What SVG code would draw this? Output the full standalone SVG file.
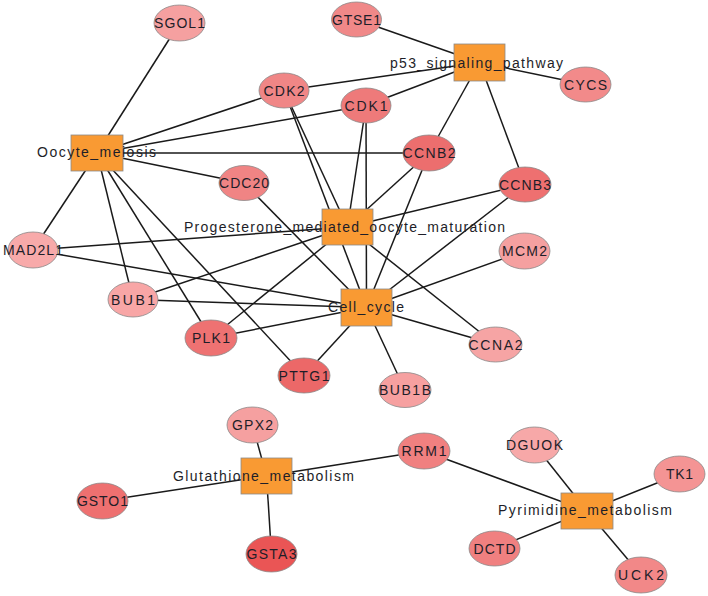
<svg xmlns="http://www.w3.org/2000/svg" width="708" height="596" viewBox="0 0 708 596">
<style>
.e{stroke:#1a1a1a;stroke-width:1.5;fill:none}
.n ellipse{stroke:#8a8a8a;stroke-width:0.8}
.p rect{fill:#F99A33;stroke:#8a8a8a;stroke-width:0.8}
text{font-family:"Liberation Sans",Arial,sans-serif;font-size:14px;fill:#1e1e28;text-anchor:middle}
</style>
<rect width="708" height="596" fill="#fff"/>
<g id="connectors">
<line class="e" x1="97" y1="153" x2="179.5" y2="23"/>
<line class="e" x1="97" y1="153" x2="284" y2="90.5"/>
<line class="e" x1="97" y1="153" x2="366" y2="105.5"/>
<line class="e" x1="97" y1="153" x2="429" y2="153"/>
<line class="e" x1="97" y1="153" x2="244" y2="183"/>
<line class="e" x1="97" y1="153" x2="33" y2="250"/>
<line class="e" x1="97" y1="153" x2="133" y2="299.5"/>
<line class="e" x1="97" y1="153" x2="211" y2="338"/>
<line class="e" x1="97" y1="153" x2="304" y2="375.5"/>
<line class="e" x1="479.5" y1="62.5" x2="356.5" y2="19.5"/>
<line class="e" x1="479.5" y1="62.5" x2="585.5" y2="84.5"/>
<line class="e" x1="479.5" y1="62.5" x2="284" y2="90.5"/>
<line class="e" x1="479.5" y1="62.5" x2="366" y2="105.5"/>
<line class="e" x1="479.5" y1="62.5" x2="429" y2="153"/>
<line class="e" x1="479.5" y1="62.5" x2="525" y2="184.5"/>
<line class="e" x1="347.5" y1="227" x2="284" y2="90.5"/>
<line class="e" x1="347.5" y1="227" x2="366" y2="105.5"/>
<line class="e" x1="347.5" y1="227" x2="429" y2="153"/>
<line class="e" x1="347.5" y1="227" x2="525" y2="184.5"/>
<line class="e" x1="347.5" y1="227" x2="33" y2="250"/>
<line class="e" x1="347.5" y1="227" x2="133" y2="299.5"/>
<line class="e" x1="347.5" y1="227" x2="211" y2="338"/>
<line class="e" x1="347.5" y1="227" x2="495.5" y2="344.5"/>
<line class="e" x1="366.5" y1="307.5" x2="284" y2="90.5"/>
<line class="e" x1="366.5" y1="307.5" x2="366" y2="105.5"/>
<line class="e" x1="366.5" y1="307.5" x2="429" y2="153"/>
<line class="e" x1="366.5" y1="307.5" x2="525" y2="184.5"/>
<line class="e" x1="366.5" y1="307.5" x2="244" y2="183"/>
<line class="e" x1="366.5" y1="307.5" x2="524.5" y2="251"/>
<line class="e" x1="366.5" y1="307.5" x2="33" y2="250"/>
<line class="e" x1="366.5" y1="307.5" x2="133" y2="299.5"/>
<line class="e" x1="366.5" y1="307.5" x2="211" y2="338"/>
<line class="e" x1="366.5" y1="307.5" x2="304" y2="375.5"/>
<line class="e" x1="366.5" y1="307.5" x2="405" y2="390"/>
<line class="e" x1="366.5" y1="307.5" x2="495.5" y2="344.5"/>
<line class="e" x1="266.5" y1="476" x2="252.5" y2="425"/>
<line class="e" x1="266.5" y1="476" x2="102.5" y2="501"/>
<line class="e" x1="266.5" y1="476" x2="271.5" y2="554"/>
<line class="e" x1="266.5" y1="476" x2="424" y2="451"/>
<line class="e" x1="587" y1="511" x2="424" y2="451"/>
<line class="e" x1="587" y1="511" x2="534.5" y2="445"/>
<line class="e" x1="587" y1="511" x2="679.5" y2="474"/>
<line class="e" x1="587" y1="511" x2="494.5" y2="548.5"/>
<line class="e" x1="587" y1="511" x2="641" y2="575"/>
</g>
<g id="SGOL1" class="n"><ellipse cx="179.5" cy="23" rx="25.5" ry="18" fill="#F5A0A0"/><text x="179.5" y="28" textLength="51" lengthAdjust="spacing">SGOL1</text></g>
<g id="GTSE1" class="n"><ellipse cx="356.5" cy="19.5" rx="25" ry="17.5" fill="#F08888"/><text x="356.5" y="24.5" textLength="49" lengthAdjust="spacing">GTSE1</text></g>
<g id="CYCS" class="n"><ellipse cx="585.5" cy="84.5" rx="25.5" ry="17.5" fill="#F28A8A"/><text x="585.5" y="89.5" textLength="43" lengthAdjust="spacing">CYCS</text></g>
<g id="CDK2" class="n"><ellipse cx="284" cy="90.5" rx="25" ry="17.5" fill="#F08686"/><text x="284" y="95.5" textLength="41" lengthAdjust="spacing">CDK2</text></g>
<g id="CDK1" class="n"><ellipse cx="366" cy="105.5" rx="25" ry="17.5" fill="#EE7A7A"/><text x="366" y="110.5" textLength="43" lengthAdjust="spacing">CDK1</text></g>
<g id="CDC20" class="n"><ellipse cx="244" cy="183" rx="25" ry="17.5" fill="#F08484"/><text x="244" y="188" textLength="50" lengthAdjust="spacing">CDC20</text></g>
<g id="CCNB2" class="n"><ellipse cx="429" cy="153" rx="26" ry="18" fill="#EC6E6E"/><text x="429" y="158" textLength="53" lengthAdjust="spacing">CCNB2</text></g>
<g id="CCNB3" class="n"><ellipse cx="525" cy="184.5" rx="26" ry="17.5" fill="#EE7070"/><text x="525" y="189.5" textLength="52" lengthAdjust="spacing">CCNB3</text></g>
<g id="MAD2L1" class="n"><ellipse cx="33" cy="250" rx="25" ry="18" fill="#F8AAAA"/><text x="33" y="255" textLength="60" lengthAdjust="spacing">MAD2L1</text></g>
<g id="MCM2" class="n"><ellipse cx="524.5" cy="251" rx="25.5" ry="18" fill="#F5A0A0"/><text x="524.5" y="256" textLength="45" lengthAdjust="spacing">MCM2</text></g>
<g id="BUB1" class="n"><ellipse cx="133" cy="299.5" rx="25" ry="17.5" fill="#F8A6A6"/><text x="133" y="304.5" textLength="44" lengthAdjust="spacing">BUB1</text></g>
<g id="PLK1" class="n"><ellipse cx="211" cy="338" rx="26" ry="18" fill="#EE7272"/><text x="211" y="343" textLength="38" lengthAdjust="spacing">PLK1</text></g>
<g id="CCNA2" class="n"><ellipse cx="495.5" cy="344.5" rx="26.5" ry="17.5" fill="#F6A4A4"/><text x="495.5" y="349.5" textLength="54" lengthAdjust="spacing">CCNA2</text></g>
<g id="PTTG1" class="n"><ellipse cx="304" cy="375.5" rx="26" ry="17.5" fill="#EC6868"/><text x="304" y="380.5" textLength="51" lengthAdjust="spacing">PTTG1</text></g>
<g id="BUB1B" class="n"><ellipse cx="405" cy="390" rx="26" ry="17.5" fill="#F6A0A0"/><text x="405" y="395" textLength="52" lengthAdjust="spacing">BUB1B</text></g>
<g id="GPX2" class="n"><ellipse cx="252.5" cy="425" rx="25.5" ry="18" fill="#F5A0A0"/><text x="252.5" y="430" textLength="41" lengthAdjust="spacing">GPX2</text></g>
<g id="GSTO1" class="n"><ellipse cx="102.5" cy="501" rx="25.5" ry="18" fill="#EE7070"/><text x="102.5" y="506" textLength="51" lengthAdjust="spacing">GSTO1</text></g>
<g id="GSTA3" class="n"><ellipse cx="271.5" cy="554" rx="25.5" ry="18" fill="#EA5555"/><text x="271.5" y="559" textLength="50" lengthAdjust="spacing">GSTA3</text></g>
<g id="RRM1" class="n"><ellipse cx="424" cy="451" rx="26" ry="18" fill="#F08080"/><text x="424" y="456" textLength="45" lengthAdjust="spacing">RRM1</text></g>
<g id="DGUOK" class="n"><ellipse cx="534.5" cy="445" rx="25.5" ry="18" fill="#F7A8A8"/><text x="534.5" y="450" textLength="57" lengthAdjust="spacing">DGUOK</text></g>
<g id="TK1" class="n"><ellipse cx="679.5" cy="474" rx="25.5" ry="18" fill="#F49494"/><text x="679.5" y="479" textLength="27" lengthAdjust="spacing">TK1</text></g>
<g id="DCTD" class="n"><ellipse cx="494.5" cy="548.5" rx="25.5" ry="17.5" fill="#F08080"/><text x="494.5" y="553.5" textLength="42" lengthAdjust="spacing">DCTD</text></g>
<g id="UCK2" class="n"><ellipse cx="641" cy="575" rx="26" ry="18" fill="#F28888"/><text x="641" y="580" textLength="46" lengthAdjust="spacing">UCK2</text></g>
<g id="p53_signaling_pathway" class="p"><rect x="454" y="44" width="51" height="37"/><text x="476.5" y="67.5" textLength="173" lengthAdjust="spacing">p53_signaling_pathway</text></g>
<g id="Oocyte_meiosis" class="p"><rect x="71" y="135" width="52" height="36"/><text x="96.5" y="157" textLength="119" lengthAdjust="spacing">Oocyte_meiosis</text></g>
<g id="Progesterone_mediated_oocyte_maturation" class="p"><rect x="322" y="209" width="51" height="36"/><text x="344.5" y="231.5" textLength="321" lengthAdjust="spacing">Progesterone_mediated_oocyte_maturation</text></g>
<g id="Cell_cycle" class="p"><rect x="341" y="289" width="51" height="37"/><text x="366" y="312" textLength="76" lengthAdjust="spacing">Cell_cycle</text></g>
<g id="Glutathione_metabolism" class="p"><rect x="241" y="458" width="51" height="36"/><text x="263.5" y="480.5" textLength="181" lengthAdjust="spacing">Glutathione_metabolism</text></g>
<g id="Pyrimidine_metabolism" class="p"><rect x="561" y="493" width="52" height="36"/><text x="585" y="514.5" textLength="174" lengthAdjust="spacing">Pyrimidine_metabolism</text></g>
</svg>
